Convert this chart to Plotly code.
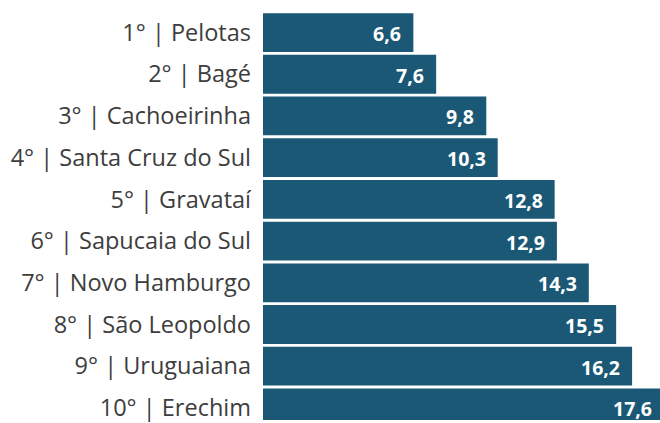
import plotly.graph_objects as go

categories = ["1° | Pelotas", "2° | Bagé", "3° | Cachoeirinha", "4° | Santa Cruz do Sul",
              "5° | Gravataí", "6° | Sapucaia do Sul", "7° | Novo Hamburgo",
              "8° | São Leopoldo", "9° | Uruguaiana", "10° | Erechim"]
values = [6.6, 7.6, 9.8, 10.3, 12.8, 12.9, 14.3, 15.5, 16.2, 17.6]
value_labels = ["6,6", "7,6", "9,8", "10,3", "12,8", "12,9", "14,3", "15,5", "16,2", "17,6"]

BAR = "#1a5876"

fig = go.Figure(go.Bar(
    x=values, y=categories, orientation="h",
    marker=dict(color=BAR, line=dict(width=0)),
    width=0.93, hoverinfo="skip",
))

for v, c, t in zip(values, categories, value_labels):
    fig.add_annotation(x=v, y=c, text="<b>%s</b>" % t, showarrow=False,
                       xanchor="right", yanchor="middle", xshift=-10, yshift=-1,
                       font=dict(family="Open Sans", size=19.5, color="white"))

# The figure is slightly wider than the window: the last bar runs past the right edge.
fig.update_layout(
    width=664, height=423,
    margin=dict(l=263, r=0, t=0, b=0),
    paper_bgcolor="white", plot_bgcolor="white",
    showlegend=False,
    xaxis=dict(range=[0, 17.6], visible=False, fixedrange=True),
    yaxis=dict(type="category", range=[9.29, -0.78], showgrid=False, zeroline=False,
               showline=False, ticks="", ticklabelstandoff=11, fixedrange=True,
               tickfont=dict(family="Open Sans", size=23.5, color="#3d3d3d")),
)

fig.write_html("out.html", config={"displayModeBar": False},
               post_script="document.body.style.margin='0';document.body.style.overflow='hidden';")
